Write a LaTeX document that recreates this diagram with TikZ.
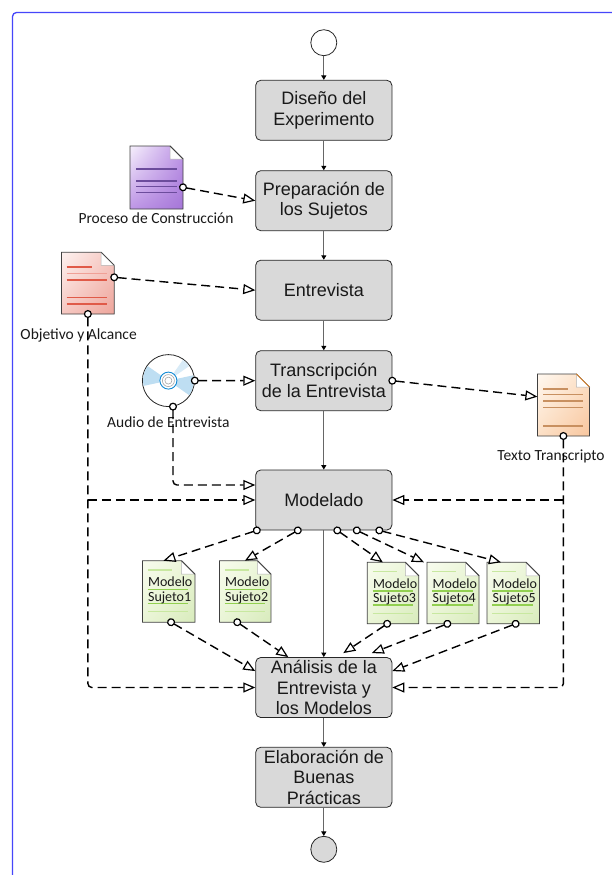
\documentclass[tikz,border=0pt]{standalone}
\usepackage{fontspec}
\setmainfont{Liberation Sans}
\newfontfamily\calib{Carlito}
\usetikzlibrary{arrows.meta,calc,shadings}
\definecolor{framec}{RGB}{70,70,250}
\definecolor{boxfill}{RGB}{217,217,217}
\definecolor{pulA}{RGB}{246,240,252}
\definecolor{pulB}{RGB}{190,150,230}
\definecolor{pulC}{RGB}{165,118,216}
\definecolor{pline}{RGB}{108,76,156}
\definecolor{redA}{RGB}{253,242,240}
\definecolor{redB}{RGB}{246,200,194}
\definecolor{redC}{RGB}{238,165,155}
\definecolor{rline}{RGB}{224,90,72}
\definecolor{rlight}{RGB}{240,160,150}
\definecolor{orA}{RGB}{255,248,240}
\definecolor{orB}{RGB}{252,224,198}
\definecolor{orC}{RGB}{248,198,158}
\definecolor{oline}{RGB}{200,144,96}
\definecolor{grA}{RGB}{248,252,238}
\definecolor{grB}{RGB}{234,245,214}
\definecolor{grC}{RGB}{216,235,188}
\definecolor{gline}{RGB}{146,208,80}
\definecolor{glight}{RGB}{200,232,160}
\definecolor{cdblue}{RGB}{190,222,242}
\newcommand\docshape[5]{%
  \shadedraw[upper left=#2, lower right=#3, upper right=#4, lower left=#4, draw=black!75, line width=0.8pt]
    (#1.north west) -- ([xshift=-#5pt]#1.north east) -- ([yshift=-#5pt]#1.north east) -- (#1.south east) -- (#1.south west) -- cycle;
  \filldraw[fill=white, draw=black!30, line width=0.5pt]
    ([xshift=-#5pt]#1.north east) -- ([shift={(-#5pt,-#5pt)}]#1.north east) -- ([yshift=-#5pt]#1.north east) -- cycle;
  \draw[black!75, line width=0.8pt] ([xshift=-#5pt]#1.north east) -- ([yshift=-#5pt]#1.north east);
}
\newcommand\docline[5]{\draw[#5, line width=1.2pt] ([shift={(#2pt,-#4pt)}]#1.north west) -- ([shift={(#3pt,-#4pt)}]#1.north west);}
\begin{document}
\begin{tikzpicture}[x=1pt,y=-1pt,
  stepbox/.style={draw=black!85, fill=boxfill, rounded corners=5pt, minimum width=136.2pt, minimum height=60pt, inner sep=0pt, align=center, font=\fontsize{18}{20.5}\selectfont, text=black!90, line width=0.8pt},
  flow/.style={draw=black!60, line width=1.1pt, -{Triangle[length=4.5pt,width=5pt,color=black]}},
  assoc/.style={line width=1.4pt, dash pattern=on 9pt off 5pt, {Circle[length=8pt,width=8pt,fill=white,line width=1.2pt]}-{Triangle[length=12pt,width=10pt,fill=white,line width=1.2pt]}, shorten <=-4pt},
  link/.style={line width=1.4pt, dash pattern=on 9pt off 5pt, -{Triangle[length=12pt,width=10pt,fill=white,line width=1.2pt]}},
  docnode/.style={anchor=north west, inner sep=0pt, outer sep=0pt, minimum height=62pt},
  lbl/.style={font=\calib\fontsize{15.5}{18}\selectfont, anchor=base, inner sep=0pt, text=black!90},
  mtxt/.style={font=\calib\fontsize{14}{15}\selectfont, anchor=base west, inner sep=0pt, text=black!90},
  term/.style={circle, draw=black!85, line width=0.8pt, minimum size=26pt, inner sep=0pt},
]
\useasboundingbox (0,0) rectangle (612,875);
\fill[white] (0,0) rectangle (612,875);
\draw[framec, line width=1.3pt, rounded corners=4pt] (12.5,900) |- (640,12.5);

% main flow
\node[term, fill=white] (st) at (323.8,42.7) {};
\node[stepbox] (d1) at (323.8,110.3) {Diseño del\\Experimento};
\node[stepbox] (d2) at (323.8,200.7) {Preparación de\\los Sujetos};
\node[stepbox] (d3) at (323.8,290.2) {Entrevista};
\node[stepbox] (d4) at (323.8,380.7) {Transcripción\\de la Entrevista};
\node[stepbox] (d5) at (323.8,500) {Modelado};
\node[stepbox] (d6) at (323.8,687.5) {Análisis de la\\Entrevista y\\los Modelos};
\node[stepbox] (d7) at (323.8,777.3) {Elaboración de\\Buenas\\Prácticas};
\node[term, fill=boxfill] (en) at (323.8,849.3) {};

\draw[flow] (st) -- (d1);
\draw[flow] (d1) -- (d2);
\draw[flow] (d2) -- (d3);
\draw[flow] (d3) -- (d4);
\draw[flow] (d4) -- (d5);
\draw[flow] (d5) -- (d6);
\draw[flow] (d6) -- (d7);
\draw[flow] (d7) -- (en);

% documents
\node[docnode, minimum width=53pt, minimum height=63pt] (pd) at (130,146) {};
\docshape{pd}{pulA}{pulC}{pulB}{13}
\docline{pd}{6}{46.7}{23}{pline}
\docline{pd}{6}{46.7}{35}{pline}
\docline{pd}{6}{46.7}{40.7}{pline}
\docline{pd}{6}{46.7}{46.7}{pline}

\node[docnode, minimum width=52.7pt, minimum height=61.7pt] (rd) at (61.5,252.3) {};
\docshape{rd}{redA}{redC}{redB}{13}
\docline{rd}{5.2}{30.2}{14.7}{rline}
\docline{rd}{5.2}{45.2}{21}{rlight}
\docline{rd}{5.2}{45.2}{27.7}{rline}
\docline{rd}{5.2}{45.2}{45.4}{rline}
\docline{rd}{5.2}{45.2}{51.7}{rline}

\node[docnode, minimum width=52pt, minimum height=62pt] (td) at (537.4,374) {};
\docshape{td}{orA}{orC}{orB}{13}
\draw[orange!80, line width=0.8pt] ([xshift=-13pt]td.north east) -- ([yshift=-13pt]td.north east);
\docline{td}{6}{31}{15}{oline}
\docline{td}{6}{46}{20.3}{oline}
\docline{td}{6}{46}{27}{oline}
\docline{td}{6}{46}{33.7}{oline}
\docline{td}{6}{46}{52}{oline}

% CD
\node[circle, draw=black!85, fill=white, minimum size=52pt, inner sep=0pt, line width=0.8pt] (cd) at (168.4,380.6) {};
\fill[cdblue] (cd.center) -- ++(145:25.4pt) arc[start angle=145, end angle=192, radius=25.4pt] -- cycle;
\fill[cdblue] (cd.center) -- ++(-35:25.4pt) arc[start angle=-35, end angle=12, radius=25.4pt] -- cycle;
\fill[cdblue!60] (cd.center) -- ++(35:25.4pt) arc[start angle=35, end angle=55, radius=25.4pt] -- cycle;
\draw[fill=white, draw=cyan!70!blue, line width=0.9pt] (cd.center) circle[radius=8.5pt];
\draw[gray!70, line width=0.6pt] (cd.center) circle[radius=6pt];
\draw[gray!70, line width=0.6pt] (cd.center) circle[radius=3.5pt];

% model documents
\foreach \nm/\xx/\yy/\ww/\k in {m1/142.4/560.7/52.5/1, m2/219.4/560.7/51.5/2, m3/367.3/562.3/51.5/3, m4/427/562.3/52/4, m5/487/562.3/52.5/5}{
  \node[docnode, minimum width=\ww pt, minimum height=61.5pt] (\nm) at (\xx,\yy) {};
  \docshape{\nm}{grA}{grC}{grB}{13.5}
  \docline{\nm}{5.4}{29.4}{9.3}{glight}
  \docline{\nm}{5.4}{46}{28.6}{gline}
  \docline{\nm}{5.4}{46}{42.6}{gline}
  \docline{\nm}{5.4}{46}{51}{glight}
  \node[mtxt] (\nm a) at ([shift={(5.5pt,-26pt)}]\nm.north west) {Modelo};
  \node[mtxt] (\nm b) at ([shift={(5.5pt,-40.5pt)}]\nm.north west) {Sujeto\k};
}

% labels
\node[lbl] (lp) at (156,223.5) {Proceso de Construcción};
\node[lbl] (lr) at (78.6,339.3) {Objetivo y Alcance};
\node[lbl] (lc) at (168.4,427.7) {Audio de Entrevista};
\node[lbl] (lt) at (551,460) {Texto Transcripto};

% dashed associations
\draw[assoc] ([yshift=-41.3pt]pd.north east) -- (d2.west);
\draw[assoc] ([yshift=-25pt]rd.north east) -- (d3.west);
\draw[assoc] (cd.east) -- (d4.west);
\draw[assoc] (d4.east) -- ([yshift=-22.7pt]td.north west);
\draw[assoc, rounded corners=4pt] (cd.-80) |- ([yshift=15pt]d5.west);
\draw[assoc, rounded corners=4pt] (rd.south) |- (d6.west);
\draw[link] (rd.south |- d5.west) -- (d5.west);
\draw[assoc, rounded corners=4pt] (td.south) |- (d6.east);
\draw[link] (td.south |- d5.east) -- (d5.east);

\draw[assoc] ([xshift=-67pt]d5.south) -- ([xshift=21pt]m1.north west);
\draw[assoc] ([xshift=-26pt]d5.south) -- ([xshift=25.5pt]m2.north west);
\draw[assoc] ([xshift=13.5pt]d5.south) -- ([xshift=15.5pt]m3.north west);
\draw[assoc] ([xshift=33pt]d5.south) -- ([xshift=-3pt]m4.north west);
\draw[assoc] ([xshift=55.5pt]d5.south) -- ([xshift=14pt]m5.north west);

\draw[assoc] ([xshift=2.4pt]m1.south) -- ([yshift=-14pt]d6.north west);
\draw[assoc] ([xshift=-7.9pt]m2.south) -- ([xshift=33pt]d6.north west);
\draw[assoc] ([xshift=-5.9pt]m3.south) -- ([shift={(19.5pt,4pt)}]d6.north);
\draw[assoc] ([xshift=-5.7pt]m4.south) -- ([shift={(48pt,4pt)}]d6.north);
\draw[assoc] ([xshift=2.4pt]m5.south) -- ([yshift=-14pt]d6.north east);
\end{tikzpicture}
\end{document}
